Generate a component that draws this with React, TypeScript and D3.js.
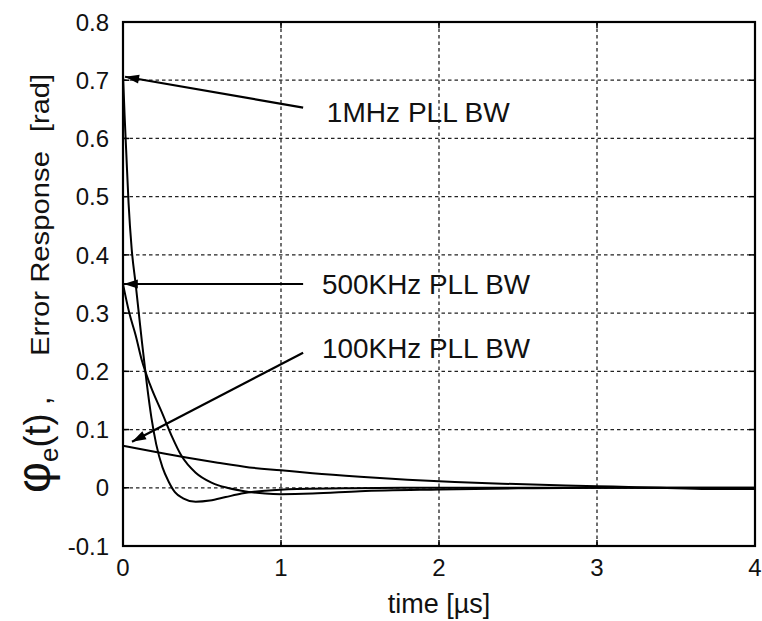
import React from 'react';
import * as d3 from 'd3';

// time axis in µs, error response in rad
const xTicks = [0, 1, 2, 3, 4];
const yTicks = [-0.1, 0, 0.1, 0.2, 0.3, 0.4, 0.5, 0.6, 0.7, 0.8];

const t1MHz = [0, 0.01, 0.02, 0.035, 0.055, 0.08, 0.1, 0.12, 0.15, 0.18, 0.21, 0.25, 0.29, 0.33, 0.38, 0.46, 0.55, 0.65, 0.75, 0.9, 1.1, 1.4, 1.8, 2.3, 3, 4];
const v1MHz = [0.71, 0.64, 0.58, 0.49, 0.41, 0.35, 0.3, 0.25, 0.18, 0.12, 0.075, 0.035, 0.01, -0.008, -0.018, -0.024, -0.022, -0.016, -0.01, -0.005, -0.002, -0.001, 0, 0, 0, 0];

const t500KHz = [0, 0.04, 0.08, 0.12, 0.17, 0.25, 0.31, 0.37, 0.46, 0.56, 0.66, 0.75, 0.9, 1.0, 1.2, 1.5, 2, 2.5, 3, 4];
const v500KHz = [0.35, 0.3, 0.262, 0.218, 0.178, 0.127, 0.088, 0.055, 0.026, 0.009, 0, -0.005, -0.01, -0.011, -0.01, -0.006, -0.003, -0.001, 0, 0];

const t100KHz = [0, 0.2, 0.4, 0.6, 0.8, 1.0, 1.2, 1.5, 1.8, 2.1, 2.4, 2.8, 3.1, 3.4, 3.7, 4];
const v100KHz = [0.072, 0.062, 0.052, 0.043, 0.035, 0.03, 0.025, 0.019, 0.014, 0.01, 0.007, 0.004, 0.002, 0, -0.002, -0.002];

const series = [
  { name: '1MHz', t: t1MHz, v: v1MHz },
  { name: '500KHz', t: t500KHz, v: v500KHz },
  { name: '100KHz', t: t100KHz, v: v100KHz },
];

// annotation arrows: tail / tip in data units
const annLabels = ['1MHz PLL BW', '500KHz PLL BW', '100KHz PLL BW'];
const annTail = [[1.14, 0.653], [1.14, 0.35], [1.14, 0.232]];
const annTip = [[0.013, 0.706], [0.005, 0.35], [0.057, 0.079]];
const annText = [[1.29, 0.645], [1.26, 0.35], [1.26, 0.24]];

const W = 762;
const H = 621;
const left = 123, right = 755, top = 22, bottom = 546;
const font = '"Liberation Sans", Arial, Helvetica, sans-serif';

export default function App() {
  const x = d3.scaleLinear().domain([0, 4]).range([left, right]);
  const y = d3.scaleLinear().domain([-0.1, 0.8]).range([bottom, top]);
  const line = d3.line<[number, number]>()
    .x((d) => x(d[0]))
    .y((d) => y(d[1]))
    .curve(d3.curveMonotoneX);

  const arrowHead = (tail: number[], tip: number[]) => {
    const x0 = x(tail[0]), y0 = y(tail[1]);
    const x1 = x(tip[0]), y1 = y(tip[1]);
    const a = Math.atan2(y1 - y0, x1 - x0);
    const len = 14, half = 4.5;
    const bx = x1 - len * Math.cos(a), by = y1 - len * Math.sin(a);
    const p2 = [bx + half * Math.sin(a), by - half * Math.cos(a)];
    const p3 = [bx - half * Math.sin(a), by + half * Math.cos(a)];
    return `${x1},${y1} ${p2[0]},${p2[1]} ${p3[0]},${p3[1]}`;
  };

  return (
    <svg width={W} height={H} style={{ position: 'absolute', left: 0, top: 0, background: '#fff' }}>
      {/* grid */}
      <g stroke="#222" strokeWidth={1.3} strokeDasharray="3.5,3">
        {xTicks.slice(1, -1).map((t) => (
          <line key={'gx' + t} x1={x(t)} x2={x(t)} y1={top} y2={bottom} />
        ))}
        {yTicks.slice(1, -1).map((v) => (
          <line key={'gy' + v} x1={left} x2={right} y1={y(v)} y2={y(v)} />
        ))}
      </g>

      {/* curves */}
      {series.map((s) => (
        <path
          key={s.name}
          d={line(s.t.map((t, i) => [t, s.v[i]] as [number, number])) || ''}
          fill="none"
          stroke="#000"
          strokeWidth={2}
        />
      ))}

      {/* annotations */}
      {annLabels.map((lab, i) => (
        <g key={lab}>
          <line
            x1={x(annTail[i][0])} y1={y(annTail[i][1])}
            x2={x(annTip[i][0])} y2={y(annTip[i][1])}
            stroke="#000" strokeWidth={2.2}
          />
          <polygon points={arrowHead(annTail[i], annTip[i])} fill="#000" />
          <text
            x={x(annText[i][0])} y={y(annText[i][1])}
            dy="0.36em" fontFamily={font} fontSize={28}
            textLength={i === 0 ? 183 : 208} lengthAdjust="spacingAndGlyphs"
            fill="#111"
          >
            {lab}
          </text>
        </g>
      ))}

      {/* frame and ticks */}
      <rect x={left} y={top} width={right - left} height={bottom - top} fill="none" stroke="#000" strokeWidth={2.2} />
      <g stroke="#000" strokeWidth={1.5}>
        {xTicks.map((t) => (
          <g key={'tx' + t}>
            <line x1={x(t)} x2={x(t)} y1={bottom} y2={bottom - 6} />
            <line x1={x(t)} x2={x(t)} y1={top} y2={top + 6} />
          </g>
        ))}
        {yTicks.map((v) => (
          <g key={'ty' + v}>
            <line x1={left} x2={left + 6} y1={y(v)} y2={y(v)} />
            <line x1={right} x2={right - 6} y1={y(v)} y2={y(v)} />
          </g>
        ))}
      </g>

      {/* tick labels */}
      <g fontFamily={font} fontSize={24} fill="#111">
        {yTicks.map((v) => (
          <text key={'ly' + v} x={left - 14} y={y(v)} dy="0.36em" textAnchor="end">
            {String(+v.toFixed(1))}
          </text>
        ))}
        {xTicks.map((t) => (
          <text key={'lx' + t} x={x(t)} y={bottom + 30} textAnchor="middle">
            {t}
          </text>
        ))}
      </g>

      {/* axis titles */}
      <text x={(left + right) / 2} y={613} textAnchor="middle" fontFamily={font} fontSize={27} fill="#111">
        time [µs]
      </text>
      <g fontFamily={font} fill="#111">
        <text transform="translate(50, 493) rotate(-90)">
          <tspan fontSize={48}>φ</tspan>
          <tspan fontSize={26} dy={8}>e</tspan>
          <tspan fontSize={36} dy={-8}>(t)</tspan>
          <tspan fontSize={30}> ,</tspan>
        </text>
        <text transform="translate(49, 356) rotate(-90)" fontSize={26} textLength={205} lengthAdjust="spacingAndGlyphs">
          Error Response
        </text>
        <text transform="translate(49, 132) rotate(-90)" fontSize={26} textLength={58} lengthAdjust="spacingAndGlyphs">
          [rad]
        </text>
      </g>
    </svg>
  );
}
